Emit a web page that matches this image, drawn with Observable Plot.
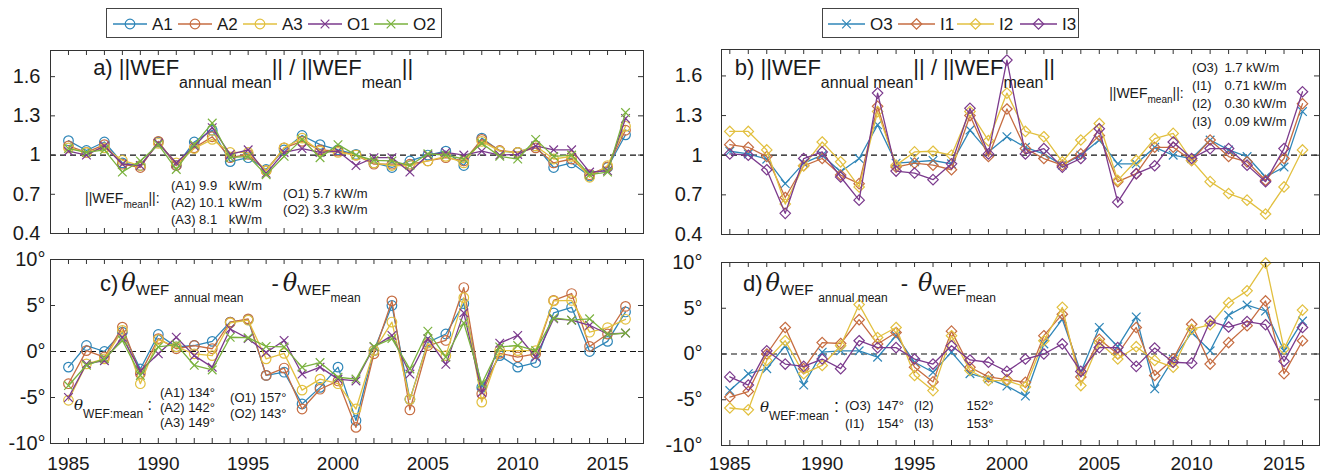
<!DOCTYPE html>
<html><head><meta charset="utf-8">
<script src="https://cdn.jsdelivr.net/npm/d3@7"></script>
<script src="https://cdn.jsdelivr.net/npm/@observablehq/plot@0.6"></script>
<style>
body{margin:0;background:#fff;font-family:"Liberation Sans",Arial,sans-serif;}
#root{position:relative;width:1325px;height:473px;overflow:hidden;background:#fff;}
#root > svg{position:absolute;overflow:visible;}
</style></head><body><div id="root"></div>
<script>
// ---------- categories / ticks ----------
const years = [1985,1986,1987,1988,1989,1990,1991,1992,1993,1994,1995,1996,1997,1998,1999,2000,
               2001,2002,2003,2004,2005,2006,2007,2008,2009,2010,2011,2012,2013,2014,2015,2016];
const yearLabels = [1985,1990,1995,2000,2005,2010,2015];
const magTicks = [0.4,0.7,1,1.3,1.6];
const angTicks = [-10,-5,0,5,10];

const namesLeft = ["A1","A2","A3","O1","O2"];
const namesRight = ["O3","I1","I2","I3"];
const colorsLeft = ["#2f86b8","#c66d42","#e2c040","#7b3a8d","#7ab23e"];
const colorsRight = ["#2f86b8","#c66d42","#e2c040","#7b3a8d"];
const symbolsLeft = ["circle","circle","circle","times","times"];
const symbolsRight = ["times","diamond2","diamond2","diamond2"];

// ---------- panel a: ||WEF annual|| / ||WEF mean|| ----------
const magA1 = [1.11,1.035,1.10,0.94,0.92,1.10,0.92,1.10,1.19,0.95,0.98,0.89,1.04,1.15,1.08,1.04,1.005,0.94,0.905,0.955,1.0,1.03,0.92,1.13,1.03,1.02,1.07,0.905,0.94,0.84,0.905,1.155];
const magA2 = [1.07,1.02,1.08,0.93,0.905,1.105,0.92,1.055,1.14,0.98,1.005,0.88,1.055,1.105,1.04,1.03,1.0,0.93,0.93,0.93,0.955,0.98,0.955,1.12,1.035,1.02,1.055,0.94,0.97,0.85,0.91,1.19];
const magA3 = [1.055,1.02,1.055,0.96,0.92,1.09,0.94,1.05,1.12,1.02,1.02,0.88,1.055,1.13,1.03,1.02,1.0,0.94,0.92,0.92,0.955,0.99,0.94,1.105,1.03,1.02,1.07,0.97,0.99,0.83,0.92,1.22];
const magO1 = [1.03,1.0,1.07,0.93,0.92,1.09,0.94,1.07,1.21,1.005,1.04,0.86,1.02,1.05,1.02,1.03,0.92,0.98,0.98,0.87,1.0,1.02,1.0,1.03,1.0,1.005,1.07,1.04,1.04,0.87,0.88,1.28];
const magO2 = [1.05,1.02,1.04,0.87,0.955,1.08,0.89,1.08,1.245,0.98,0.99,0.85,0.99,1.12,0.98,1.08,1.0,0.96,0.955,0.92,1.01,1.0,0.97,1.09,0.99,0.97,1.12,0.99,1.0,0.85,0.87,1.325];

// ---------- panel b ----------
const magO3 = [1.03,1.01,0.97,0.785,0.94,1.0,0.875,0.975,1.23,0.94,0.95,0.96,0.935,1.19,1.025,1.14,1.06,1.01,0.925,1.0,1.115,0.935,0.935,1.06,1.0,0.975,1.115,1.04,0.99,0.835,0.91,1.33];
const magI1 = [1.08,1.06,0.99,0.68,0.92,0.975,0.85,0.785,1.37,0.91,0.94,0.925,0.89,1.30,0.99,1.35,1.05,0.975,0.925,1.01,1.15,0.80,0.86,1.06,1.06,0.96,1.115,0.99,0.95,0.81,0.975,1.39];
const magI2 = [1.18,1.18,1.04,0.63,0.92,1.10,0.95,0.76,1.33,0.925,1.025,1.03,1.0,1.33,1.11,1.47,1.18,1.14,0.95,1.115,1.24,0.81,0.96,1.125,1.165,0.96,0.80,0.71,0.66,0.555,0.76,1.04];
const magI3 = [1.01,1.0,0.89,0.56,0.975,1.025,0.835,0.66,1.47,0.88,0.865,0.815,0.935,1.355,1.01,1.72,1.01,1.05,0.91,0.975,1.2,0.645,0.86,0.92,1.10,0.975,1.05,1.05,0.925,0.80,1.05,1.48];

// ---------- panel c: theta annual - theta mean (deg) ----------
const angA1 = [-1.7,0.65,0,2.1,-1.9,1.85,0.5,0.65,1.1,3.2,3.45,-2.6,-2.25,-5.7,-3.9,-1.7,-7.5,0.1,5.0,-5.2,1.0,1.9,5.2,-3.9,-0.45,-1.7,-1.2,4.2,4.8,0,1.1,4.3];
const angA2 = [-3.5,0.1,-0.6,2.65,-2.4,1.4,0.3,0.65,0.3,3.2,3.55,-2.6,-1.8,-6.25,-4.1,-3.2,-8.25,-0.25,5.5,-6.35,0.65,1.2,6.95,-4.6,-0.2,-0.6,-0.25,5.55,6.3,0.55,1.9,4.9];
const angA3 = [-5.3,-1.35,-0.8,2.3,-3.5,1.3,0.5,-0.25,-0.45,3.1,3.4,-0.8,-0.2,-4.2,-3.0,-3.5,-6.25,0.1,3.2,-5.2,0.9,-0.45,5.85,-5.5,0.1,0.1,0.1,5.5,5.55,2.1,2.6,3.5];
const angO1 = [-5.0,-1.35,-1.0,1.55,-2.1,-0.25,1.55,-0.45,-1.7,2.45,1.4,-0.1,1.2,-2.45,-1.7,-3.0,-3.2,0.5,1.75,-2.45,1.4,-1.4,4.2,-4.45,0.9,1.75,-0.6,3.55,3.4,2.85,1.9,2.0];
const angO2 = [-3.7,-1.5,-0.8,1.2,-2.6,0.5,0.75,-1.5,-2.0,1.55,1.5,0.55,0.5,-1.7,-1.2,-2.8,-3.0,0.55,1.4,-1.9,2.2,-0.6,3.1,-3.5,0.5,0.65,0.1,3.65,3.4,3.55,1.85,2.0];

// ---------- panel d ----------
const angO3 = [-4.0,-2.15,-1.6,0.9,-3.4,0.2,0.35,0.35,-0.35,2.0,-0.9,-2.0,0.2,-2.15,-2.7,-3.5,-4.6,1.1,3.8,-2.0,2.9,0.8,4.05,-3.8,-0.55,2.35,0.35,4.25,5.35,4.7,0.35,3.6];
const angI1 = [-4.7,-4.1,0,2.9,-1.6,1.25,1.15,3.75,1.1,2.35,-1.45,-3.05,2.5,-1.45,-2.5,-2.8,-3.1,2.0,4.35,-2.5,1.6,0,2.9,-2.35,-0.55,3.25,-1.1,1.25,3.1,5.8,-2.15,1.45];
const angI2 = [-5.9,-6.1,-0.7,1.45,-2.15,-1.25,0.9,5.4,1.8,2.9,-2.35,-4.0,2.0,-1.8,-2.9,-2.9,-3.6,1.45,5.1,-3.45,1.25,-0.55,0.8,-0.7,-1.45,2.7,3.2,5.6,6.9,9.95,0.55,4.8];
const angI3 = [-2.5,-3.4,0.35,-1.1,-1.35,-0.55,-1.6,1.45,0.7,0.7,-0.55,-1.1,0.9,-0.65,-0.9,-1.9,-0.55,0,1.1,-1.9,0.7,0.7,-1.35,0.65,-0.9,-1.0,3.6,2.95,3.55,3.2,-0.8,2.9];

// ---------- helpers ----------
const root = document.getElementById("root");
const FONT = "Liberation Sans, Arial, sans-serif";
const radius = {circle: 4.8, times: 4.0, diamond2: 4.7};
const d3sym = {circle: d3.symbolCircle, times: d3.symbolTimes, diamond2: d3.symbolDiamond2};

function makePanel(cfg) {
  const {names, colors, symbols, values, xDomain, yDomain, yTicks, yFmt, ref,
         W, H, mL, mR, mT, mB, left, top, xLabels, xPad, yPad} = cfg;
  const rows = names.flatMap((n, k) => values[k].map((v, i) => ({series: n, year: years[i], value: v})));
  const iw = W - mL - mR, ih = H - mT - mB;
  const marks = [
    Plot.ruleY([ref], {stroke: "#111", strokeWidth: 1.2, strokeDasharray: "6,4"})
  ];
  names.forEach((n, k) => {
    const d = rows.filter(r => r.series === n);
    marks.push(Plot.line(d, {x: "year", y: "value", stroke: "series", strokeWidth: 1.3}));
    marks.push(Plot.dot(d, {x: "year", y: "value", stroke: "series", symbol: "series", fill: "none",
                            r: radius[symbols[k]], strokeWidth: 1.2}));
  });
  marks.push(
    Plot.ruleX(years, {insetTop: ih - 5, stroke: "#333"}),
    Plot.ruleX(years, {insetBottom: ih - 5, stroke: "#333"}),
    Plot.ruleY(yTicks, {insetRight: iw - 5, stroke: "#333"}),
    Plot.ruleY(yTicks, {insetLeft: iw - 5, stroke: "#333"}),
    Plot.frame({stroke: "#333", strokeWidth: 1}),
    Plot.axisY({ticks: yTicks, tickSize: 0, tickPadding: yPad, tickFormat: yFmt, fontSize: 20, label: null})
  );
  if (xLabels) marks.push(Plot.axisX({ticks: yearLabels, tickSize: 0, tickPadding: xPad,
                          tickFormat: d => String(d), fontSize: 19, label: null}));
  const svg = Plot.plot({
    width: W, height: H, marginLeft: mL, marginRight: mR, marginTop: mT, marginBottom: mB,
    x: xLabels ? {domain: xDomain} : {domain: xDomain, axis: null},
    y: {domain: yDomain},
    color: {domain: names, range: colors},
    symbol: {domain: names, range: symbols},
    style: {fontFamily: FONT, fontSize: "16px", color: "#1a1a1a", background: "transparent", overflow: "visible"},
    marks
  });
  svg.style.left = left + "px";
  svg.style.top = top + "px";
  root.appendChild(svg);
  return svg;
}

// rich text at data coordinates; parts: {t, s (size), o (baseline offset), dx, i (italic)}
function rich(svg, xv, yv, parts) {
  const sx = svg.scale("x"), sy = svg.scale("y");
  const t = d3.select(svg).append("text").attr("x", sx.apply(xv)).attr("y", sy.apply(yv))
    .attr("text-anchor", "start").attr("fill", "#1a1a1a").attr("font-family", FONT)
    .style("white-space", "pre");
  let prev = 0;
  for (const p of parts) {
    const o = p.o || 0;
    const ts = t.append("tspan").text(p.t).attr("font-size", p.s).attr("dy", o - prev).attr("dx", p.dx || 0);
    if (p.i) ts.attr("font-style", "italic").attr("font-family", "DejaVu Serif, Liberation Serif, serif");
    prev = o;
  }
  return t;
}

const magFmt = d => String(d);
const angFmt = d => d + "°";

// ---------- panels ----------
const pa = makePanel({names: namesLeft, colors: colorsLeft, symbols: symbolsLeft,
  values: [magA1, magA2, magA3, magO1, magO2], xDomain: [1984, 2017], yDomain: [0.4, 1.8],
  yTicks: magTicks, yFmt: magFmt, ref: 1, W: 660, H: 200, mL: 50, mR: 17, mT: 10, mB: 7,
  left: 0, top: 40, xLabels: false, yPad: 10});
const pb = makePanel({names: namesRight, colors: colorsRight, symbols: symbolsRight,
  values: [magO3, magI1, magI2, magI3], xDomain: [1984.55, 2016.92], yDomain: [0.4, 1.8],
  yTicks: magTicks, yFmt: magFmt, ref: 1, W: 645, H: 200, mL: 41, mR: 6, mT: 9, mB: 6,
  left: 680, top: 40, xLabels: false, yPad: 19});
const pc = makePanel({names: namesLeft, colors: colorsLeft, symbols: symbolsLeft,
  values: [angA1, angA2, angA3, angO1, angO2], xDomain: [1984, 2017], yDomain: [-10, 10],
  yTicks: angTicks, yFmt: angFmt, ref: 0, W: 660, H: 233, mL: 50, mR: 17, mT: 19, mB: 30,
  left: 0, top: 240, xLabels: true, xPad: 13, yPad: 5});
const pd = makePanel({names: namesRight, colors: colorsRight, symbols: symbolsRight,
  values: [angO3, angI1, angI2, angI3], xDomain: [1984.55, 2016.92], yDomain: [-10, 10],
  yTicks: angTicks, yFmt: angFmt, ref: 0, W: 645, H: 233, mL: 41, mR: 6, mT: 22, mB: 28,
  left: 680, top: 240, xLabels: true, xPad: 11, yPad: 19});

// ---------- titles ----------
const magTitle = (p) => [
  {t: p + " ||WEF", s: 22}, {t: "annual mean", s: 16, o: 13}, {t: "|| / ||WEF", s: 22, o: 0},
  {t: "mean", s: 16, o: 13}, {t: "||", s: 22, o: 0}];
rich(pa, 1986.4, 1.61, magTitle("a)"));
rich(pb, 1985.3, 1.605, magTitle("b)"));

rich(pc, 1986.78, 6.5, [
  {t: "c)", s: 22}, {t: "θ", s: 24, i: true, dx: 3}, {t: "WEF", s: 15, o: 4},
  {t: "annual mean", s: 12, o: 11, dx: 5}, {t: "-", s: 22, o: 0, dx: 28},
  {t: "θ", s: 24, i: true, dx: 4}, {t: "WEF", s: 15, o: 4}, {t: "mean", s: 12, o: 11}]);
rich(pd, 1985.74, 6.8, [
  {t: "d)", s: 22}, {t: "θ", s: 24, i: true, dx: 3}, {t: "WEF", s: 15, o: 4},
  {t: "annual mean", s: 12, o: 11, dx: 5}, {t: "-", s: 22, o: 0, dx: 13},
  {t: "θ", s: 24, i: true, dx: 10}, {t: "WEF", s: 15, o: 4}, {t: "mean", s: 12, o: 11}]);

// ---------- annotations: panel a ----------
const aLabels = ["(A1) 9.9", "(A2) 10.1", "(A3) 8.1"];
const aRowsY = [0.729, 0.599, 0.469];
rich(pa, 1985.95, 0.63, [{t: "||WEF", s: 14}, {t: "mean", s: 10, o: 5}, {t: "||:", s: 14, o: 0}]);
aLabels.forEach((l, i) => { rich(pa, 1990.73, aRowsY[i], [{t: l, s: 13}]); rich(pa, 1993.95, aRowsY[i], [{t: "kW/m", s: 13}]); });
const oLabels = ["(O1) 5.7 kW/m", "(O2) 3.3 kW/m"];
const oRowsY = [0.668, 0.545];
oLabels.forEach((l, i) => rich(pa, 1996.97, oRowsY[i], [{t: l, s: 13}]));

// ---------- annotations: panel b ----------
rich(pb, 2005.56, 1.43, [{t: "||WEF", s: 14}, {t: "mean", s: 10, o: 5}, {t: "||:", s: 14, o: 0}]);
const bLabels = ["(O3)", "(I1)", "(I2)", "(I3)"];
const bVals = ["1.7", "0.71", "0.30", "0.09"];
const bRowsY = [1.625, 1.489, 1.352, 1.215];
bLabels.forEach((l, i) => {
  rich(pb, 2010.05, bRowsY[i], [{t: l, s: 13}]);
  rich(pb, 2011.8, bRowsY[i], [{t: bVals[i] + " kW/m", s: 13}]);
});

// ---------- annotations: panel c ----------
rich(pc, 1985.34, -6.4, [{t: "θ", s: 15, i: true}, {t: "WEF:mean", s: 12, o: 8}, {t: " :", s: 16, o: 0}]);
const cA = ["(A1) 134°", "(A2) 142°", "(A3) 149°"], cAy = [-5.0, -6.63, -8.3];
cA.forEach((l, i) => rich(pc, 1990.12, cAy[i], [{t: l, s: 13}]));
const cO = ["(O1) 157°", "(O2) 143°"], cOy = [-5.54, -7.28];
cO.forEach((l, i) => rich(pc, 1994.02, cOy[i], [{t: l, s: 13}]));

// ---------- annotations: panel d ----------
rich(pd, 1986.66, -6.4, [{t: "θ", s: 15, i: true}, {t: "WEF:mean", s: 12, o: 8}, {t: " :", s: 18, o: 0}]);
const dL1 = ["(O3)", "(I1)"], dV1 = ["147°", "154°"], dL2 = ["(I2)", "(I3)"], dV2 = ["152°", "153°"];
const dRowsY = [-6.17, -8.1];
dRowsY.forEach((y, i) => {
  rich(pd, 1991.26, y, [{t: dL1[i], s: 13}]);
  rich(pd, 1993.0, y, [{t: dV1[i], s: 13}]);
  rich(pd, 1995.0, y, [{t: dL2[i], s: 13}]);
  rich(pd, 1997.84, y, [{t: dV2[i], s: 13}]);
});

// ---------- legends ----------
const leg = d3.select(root).append("svg").attr("width", 1325).attr("height", 40)
  .style("left", "0px").style("top", "0px").attr("font-family", FONT);
function legend(box, names, colors, symbols, starts, lineLen) {
  leg.append("rect").attr("x", box[0]).attr("y", box[1]).attr("width", box[2]).attr("height", box[3])
    .attr("fill", "#fff").attr("stroke", "#444").attr("stroke-width", 1);
  const cy = box[1] + box[3] / 2 + 1;
  names.forEach((n, i) => {
    const x0 = starts[i];
    leg.append("line").attr("x1", x0).attr("x2", x0 + lineLen).attr("y1", cy).attr("y2", cy)
      .attr("stroke", colors[i]).attr("stroke-width", 1.3);
    const r = radius[symbols[i]];
    leg.append("path").attr("d", d3.symbol(d3sym[symbols[i]], Math.PI * r * r)())
      .attr("transform", `translate(${x0 + lineLen / 2},${cy})`)
      .attr("fill", "none").attr("stroke", colors[i]).attr("stroke-width", 1.2);
    leg.append("text").attr("x", x0 + lineLen + 5).attr("y", cy + 6).attr("font-size", 17)
      .attr("fill", "#1a1a1a").text(n);
  });
}
legend([106.5, 8.5, 335, 29], namesLeft, colorsLeft, symbolsLeft, [113, 178, 243, 308, 374], 34);
legend([822.5, 8.5, 256, 29], namesRight, colorsRight, symbolsRight, [828, 898, 957, 1020], 37);
</script></body></html>
